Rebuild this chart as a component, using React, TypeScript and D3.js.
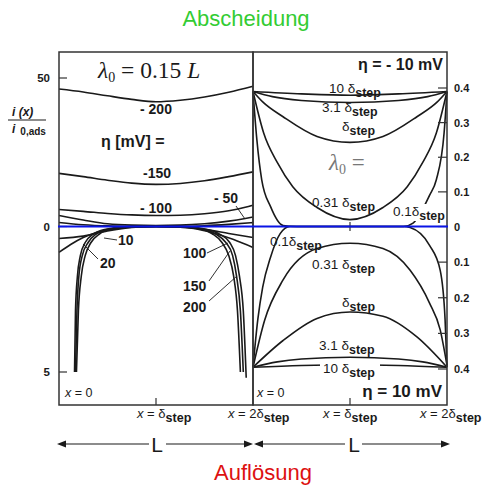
import React from "react";
import * as d3 from "d3";

type P = [number, number];

// ---------- Left panel: deposition curves (upper scale 0..50), x in units of δstep ----------
const depoEta = ["- 200", "-150", "- 100", "- 50"];
const depoM200: P[] = [[0, 46.3], [0.25, 45.3], [0.5, 44.0], [0.75, 42.8], [1, 42.0], [1.25, 42.5], [1.5, 43.6], [1.75, 45.2], [2, 47.2]];
const depoM150: P[] = [[0, 17.9], [0.25, 16.8], [0.5, 15.6], [0.75, 14.6], [1, 14.2], [1.25, 14.5], [1.5, 15.4], [1.75, 16.8], [2, 18.4]];
const depoM100: P[] = [[0, 5.7], [0.25, 5.1], [0.5, 4.4], [0.75, 3.9], [1, 3.7], [1.25, 3.8], [1.5, 4.3], [1.75, 5.3], [1.92, 6.5], [2, 7.2]];
const depoM50: P[] = [[0, 3.7], [0.25, 2.2], [0.5, 0.9], [0.75, 0.45], [1, 0.35], [1.25, 0.45], [1.5, 0.9], [1.75, 1.8], [1.92, 2.7], [2, 3.2]];
const depoM20: P[] = [[0, 1.35], [0.25, 0.6], [0.5, 0.2], [0.75, 0.05], [1, 0.02], [1.25, 0.05], [1.5, 0.25], [1.75, 0.7], [2, 1.3]];

// ---------- Left panel: dissolution curves (lower scale 0..5) ----------
const dissEta = ["10", "20", "100", "150", "200"];
const diss10: P[] = [[0, 0.41], [0.25, 0.33], [0.5, 0.15], [0.75, 0.03], [1, 0], [1.25, 0.02], [1.5, 0.1], [1.75, 0.24], [2, 0.38]];
const diss20: P[] = [[0, 0.89], [0.12, 0.62], [0.25, 0.38], [0.45, 0.15], [0.7, 0.03], [1, 0], [1.3, 0.03], [1.55, 0.18], [1.8, 0.45], [2, 0.72]];
const diss100: P[] = [[0.18, 5.0], [0.2, 2.9], [0.23, 1.7], [0.27, 1.0], [0.33, 0.55], [0.42, 0.25], [0.55, 0.08], [0.75, 0.01], [1, 0], [1.25, 0.01], [1.45, 0.08], [1.58, 0.25], [1.68, 0.55], [1.75, 1.0], [1.8, 1.7], [1.84, 2.9], [1.87, 5.0]];
const diss150: P[] = [[0.17, 5.0], [0.185, 2.9], [0.205, 1.7], [0.24, 1.0], [0.3, 0.55], [0.38, 0.27], [0.5, 0.1], [0.7, 0.015], [1, 0], [1.3, 0.015], [1.5, 0.1], [1.62, 0.27], [1.72, 0.55], [1.79, 1.0], [1.83, 1.7], [1.87, 2.9], [1.9, 5.0]];
const diss200: P[] = [[0.16, 5.0], [0.17, 2.9], [0.19, 1.7], [0.22, 1.0], [0.27, 0.55], [0.35, 0.27], [0.47, 0.1], [0.68, 0.015], [1, 0], [1.32, 0.015], [1.53, 0.1], [1.66, 0.27], [1.76, 0.55], [1.82, 1.0], [1.86, 1.7], [1.9, 2.9], [1.93, 5.2]];

// ---------- Right panel, η = -10 mV (upper, 0..0.4) ----------
const lambdaLabels = ["10 δ", "3.1 δ", "δ", "0.31 δ", "0.1δ"];
const up10: P[] = [[0, 0.39], [0.5, 0.383], [1, 0.379], [1.5, 0.383], [2, 0.39]];
const up31: P[] = [[0, 0.39], [0.2, 0.375], [0.5, 0.364], [1, 0.358], [1.5, 0.364], [1.8, 0.375], [2, 0.39]];
const up1: P[] = [[0, 0.39], [0.1, 0.36], [0.31, 0.317], [0.66, 0.26], [1, 0.243], [1.34, 0.26], [1.69, 0.317], [1.9, 0.36], [2, 0.39]];
const up031: P[] = [[0, 0.39], [0.11, 0.27], [0.25, 0.185], [0.41, 0.115], [0.66, 0.055], [1, 0.02], [1.34, 0.055], [1.59, 0.115], [1.75, 0.185], [1.89, 0.27], [2, 0.39]];
const up01: P[] = [[0, 0.39], [0.04, 0.25], [0.09, 0.135], [0.18, 0.058], [0.31, 0.003], [0.45, 0], [1.55, 0], [1.65, 0.01], [1.82, 0.09], [1.89, 0.135], [1.97, 0.27], [2, 0.39]];

// ---------- Right panel, η = 10 mV (lower, 0..0.4) ----------
const lo10: P[] = [[0, 0.395], [0.5, 0.39], [1, 0.388], [1.5, 0.39], [2, 0.395]];
const lo31: P[] = [[0, 0.395], [0.25, 0.38], [0.5, 0.372], [1, 0.367], [1.5, 0.372], [1.75, 0.38], [2, 0.395]];
const lo1: P[] = [[0, 0.395], [0.31, 0.32], [0.66, 0.258], [1, 0.24], [1.34, 0.252], [1.69, 0.31], [2, 0.395]];
const lo031: P[] = [[0, 0.395], [0.12, 0.263], [0.31, 0.15], [0.66, 0.062], [1, 0.047], [1.34, 0.062], [1.62, 0.123], [1.82, 0.215], [1.93, 0.29], [2, 0.39]];
const lo01: P[] = [[0, 0.395], [0.05, 0.26], [0.1, 0.17], [0.18, 0.087], [0.28, 0.02], [0.38, 0], [1.55, 0], [1.62, 0.003], [1.82, 0.053], [1.93, 0.123], [1.98, 0.26], [2, 0.395]];

// ---------- tick labels ----------
const leftTicksUp = [50, 0];
const leftTicksLo = [5];
const rightTicks = [0.4, 0.3, 0.2, 0.1, 0];

const SANS = "'Liberation Sans', Arial, Helvetica, sans-serif";
const SERIF = "'Liberation Serif', 'Times New Roman', serif";
const INK = "#1a1a1a";

function Sub({ pre, size = 13.5, x, y }: any) {
  return (
    <text x={x} y={y} fontFamily={SANS} fontSize={size} fill={INK}>
      {pre}
      <tspan fontSize={size * 0.92} dy={4} fontWeight="bold">step</tspan>
    </text>
  );
}

export default function App() {
  const xL = d3.scaleLinear().domain([0, 2]).range([59, 253]);
  const xR = d3.scaleLinear().domain([0, 2]).range([253, 447]);
  const yUp = d3.scaleLinear().domain([0, 50]).range([226.5, 78]);
  const yLo = d3.scaleLinear().domain([0, 5]).range([226.5, 372]);
  const yRU = d3.scaleLinear().domain([0, 0.4]).range([226.5, 88]);
  const yRL = d3.scaleLinear().domain([0, 0.4]).range([226.5, 369]);

  const mk = (x: any, y: any) =>
    d3.line<P>().x((d) => x(d[0])).y((d) => y(d[1])).curve(d3.curveMonotoneX);
  const lUp = mk(xL, yUp);
  const lLo = mk(xL, yLo);
  const lRU = mk(xR, yRU);
  const lRL = mk(xR, yRL);

  const depo = [depoM200, depoM150, depoM100, depoM50, depoM20];
  const diss = [diss10, diss20, diss100, diss150, diss200];
  const ru = [up10, up31, up1, up031, up01];
  const rl = [lo10, lo31, lo1, lo031, lo01];

  const stroke = { fill: "none", stroke: INK, strokeWidth: 1.6 };

  const arrowHead = (tip: number, y: number, dir: number) =>
    `${tip},${y} ${tip + dir * 9},${y - 3.5} ${tip + dir * 9},${y + 3.5}`;

  return (
    <svg width={483} height={486} style={{ position: "absolute", left: 0, top: 0, background: "#fff" }}>
      <rect width={483} height={486} fill="#fff" />

      {/* titles */}
      <text x={246} y={26} textAnchor="middle" fontFamily={SANS} fontSize={22} fill="#33cc33">Abscheidung</text>
      <text x={263} y={480} textAnchor="middle" fontFamily={SANS} fontSize={22} fill="#dd1111">Auflösung</text>

      {/* curves */}
      {depo.map((d, i) => <path key={"dp" + i} d={lUp(d) || ""} {...stroke} />)}
      {diss.map((d, i) => <path key={"ds" + i} d={lLo(d) || ""} {...stroke} />)}
      {ru.map((d, i) => <path key={"ru" + i} d={lRU(d) || ""} {...stroke} />)}
      {rl.map((d, i) => <path key={"rl" + i} d={lRL(d) || ""} {...stroke} />)}

      {/* panel frames */}
      <rect x={59} y={52} width={194} height={353} fill="none" stroke="#333" strokeWidth={1.5} />
      <rect x={253} y={52} width={194} height={353} fill="none" stroke="#333" strokeWidth={1.5} />

      {/* left ticks */}
      {leftTicksUp.map((t) => (
        <g key={"lu" + t}>
          <line x1={59} x2={67} y1={yUp(t)} y2={yUp(t)} stroke="#333" strokeWidth={1.2} />
          <text x={50} y={yUp(t) + 4} textAnchor="end" fontFamily={SANS} fontSize={11.5} fontWeight="bold" fill={INK}>{t}</text>
        </g>
      ))}
      {leftTicksLo.map((t) => (
        <g key={"ll" + t}>
          <line x1={59} x2={67} y1={yLo(t)} y2={yLo(t)} stroke="#333" strokeWidth={1.2} />
          <text x={50} y={yLo(t) + 4} textAnchor="end" fontFamily={SANS} fontSize={11.5} fontWeight="bold" fill={INK}>{t}</text>
        </g>
      ))}
      {/* right ticks */}
      {rightTicks.map((t) => (
        <g key={"ru" + t}>
          <line x1={438} x2={447} y1={yRU(t)} y2={yRU(t)} stroke="#333" strokeWidth={1.2} />
          <text x={454} y={yRU(t) + 4} fontFamily={SANS} fontSize={11} fontWeight="bold" fill={INK}>{t === 0 ? "0" : t.toFixed(1)}</text>
        </g>
      ))}
      {rightTicks.filter((t) => t > 0).map((t) => (
        <g key={"rl" + t}>
          <line x1={438} x2={447} y1={yRL(t)} y2={yRL(t)} stroke="#333" strokeWidth={1.2} />
          <text x={454} y={yRL(t) + 4} fontFamily={SANS} fontSize={11} fontWeight="bold" fill={INK}>{t.toFixed(1)}</text>
        </g>
      ))}
      {/* bottom ticks */}
      <line x1={xL(1)} x2={xL(1)} y1={405} y2={398} stroke="#333" strokeWidth={1.2} />
      <line x1={xR(1)} x2={xR(1)} y1={405} y2={398} stroke="#333" strokeWidth={1.2} />
      <line x1={xR(1)} x2={xR(1)} y1={222} y2={231} stroke="#333" strokeWidth={1.2} />

      {/* zero line */}
      <line x1={58} x2={448} y1={226.5} y2={226.5} stroke="#0a14e6" strokeWidth={2.2} />

      {/* y label */}
      <text x={12} y={116} fontFamily={SANS} fontSize={12} fontWeight="bold" fontStyle="italic" fill={INK}>i (x)</text>
      <line x1={8} x2={46} y1={120} y2={120} stroke={INK} strokeWidth={1.1} />
      <text x={12} y={133} fontFamily={SANS} fontSize={12} fontWeight="bold" fontStyle="italic" fill={INK}>
        i<tspan fontStyle="normal" fontSize={10} dx={5} dy={2}>0,ads</tspan>
      </text>

      {/* left panel texts */}
      <text x={98} y={78} fontFamily={SERIF} fontSize={23.5} fill={INK}>
        <tspan fontStyle="italic">λ</tspan><tspan fontSize={14} dy={4}>0</tspan><tspan dy={-4}> = 0.15 </tspan><tspan fontStyle="italic">L</tspan>
      </text>
      <text x={156} y={114} textAnchor="middle" fontFamily={SANS} fontSize={14} fontWeight="bold" fill={INK}>{depoEta[0]}</text>
      <text x={101} y={147} fontFamily={SANS} fontSize={16} fontWeight="bold" fill={INK}>η [mV] =</text>
      <text x={157} y={178} textAnchor="middle" fontFamily={SANS} fontSize={14} fontWeight="bold" fill={INK}>{depoEta[1]}</text>
      <text x={156} y={213} textAnchor="middle" fontFamily={SANS} fontSize={14} fontWeight="bold" fill={INK}>{depoEta[2]}</text>
      <text x={226} y={203} textAnchor="middle" fontFamily={SANS} fontSize={14} fontWeight="bold" fill={INK}>{depoEta[3]}</text>
      <line x1={236} y1={206} x2={245} y2={219} stroke={INK} strokeWidth={0.9} />

      <text x={118} y={245} fontFamily={SANS} fontSize={14} fontWeight="bold" fill={INK}>{dissEta[0]}</text>
      <line x1={104} y1={238} x2={117} y2={240} stroke={INK} strokeWidth={0.9} />
      <text x={100} y={268} fontFamily={SANS} fontSize={14} fontWeight="bold" fill={INK}>{dissEta[1]}</text>
      <line x1={83} y1={244} x2={98} y2={259} stroke={INK} strokeWidth={0.9} />
      <text x={183} y={258} fontFamily={SANS} fontSize={14} fontWeight="bold" fill={INK}>{dissEta[2]}</text>
      <line x1={207} y1={253} x2={228} y2={243} stroke={INK} strokeWidth={0.9} />
      <text x={183} y={291} fontFamily={SANS} fontSize={14} fontWeight="bold" fill={INK}>{dissEta[3]}</text>
      <line x1={209} y1={281} x2={230} y2={251} stroke={INK} strokeWidth={0.9} />
      <text x={183} y={312} fontFamily={SANS} fontSize={14} fontWeight="bold" fill={INK}>{dissEta[4]}</text>
      <line x1={209} y1={301} x2={237} y2={276} stroke={INK} strokeWidth={0.9} />

      <text x={65} y={397} fontFamily={SANS} fontSize={12.5} fill={INK}><tspan fontStyle="italic">x</tspan> = 0</text>
      <text x={257} y={397} fontFamily={SANS} fontSize={12.5} fill={INK}><tspan fontStyle="italic">x</tspan> = 0</text>

      {/* right panel texts */}
      <text x={443} y={70} textAnchor="end" fontFamily={SANS} fontSize={16} fontWeight="bold" fill={INK}>η = - 10 mV</text>
      <text x={442} y={397} textAnchor="end" fontFamily={SANS} fontSize={17} fontWeight="bold" fill={INK}>η = 10 mV</text>

      <rect x={326} y={80} width={54} height={13} fill="#fff" />
      <Sub pre={lambdaLabels[0]} x={329} y={93} />
      <Sub pre={lambdaLabels[1]} x={322} y={112} />
      <Sub pre={lambdaLabels[2]} x={342} y={131} />
      <text x={329} y={170} fontFamily={SERIF} fontSize={23} fill="#777">
        <tspan fontStyle="italic">λ</tspan><tspan fontSize={14} dy={4}>0</tspan><tspan dy={-4}> =</tspan>
      </text>
      <Sub pre={lambdaLabels[3]} x={312} y={207} />
      <rect x={393} y={204} width={52} height={17} fill="#fff" />
      <Sub pre={lambdaLabels[4]} x={393} y={216} />

      <Sub pre={lambdaLabels[4]} x={270} y={246} />
      <Sub pre={lambdaLabels[3]} x={312} y={269} />
      <Sub pre={lambdaLabels[2]} x={342} y={307} />
      <Sub pre={lambdaLabels[1]} x={319} y={350} />
      <rect x={320} y={360} width={60} height={15} fill="#fff" />
      <Sub pre={lambdaLabels[0]} x={323} y={373} />

      {/* x labels */}
      <text x={137} y={418} fontFamily={SANS} fontSize={13} fill={INK}>
        <tspan fontStyle="italic">x</tspan> = δ<tspan fontSize={12.5} fontWeight="bold" dy={4}>step</tspan>
      </text>
      <text x={228} y={418} fontFamily={SANS} fontSize={13} fill={INK}>
        <tspan fontStyle="italic">x</tspan> = 2δ<tspan fontSize={12.5} fontWeight="bold" dy={4}>step</tspan>
      </text>
      <text x={323} y={418} fontFamily={SANS} fontSize={13} fill={INK}>
        <tspan fontStyle="italic">x</tspan> = δ<tspan fontSize={12.5} fontWeight="bold" dy={4}>step</tspan>
      </text>
      <text x={420} y={418} fontFamily={SANS} fontSize={13} fill={INK}>
        <tspan fontStyle="italic">x</tspan> = 2δ<tspan fontSize={12.5} fontWeight="bold" dy={4}>step</tspan>
      </text>

      {/* L arrows */}
      <line x1={60} x2={149} y1={444} y2={444} stroke={INK} strokeWidth={1.2} />
      <line x1={166} x2={250} y1={444} y2={444} stroke={INK} strokeWidth={1.2} />
      <polygon points={arrowHead(57, 444, 1)} fill={INK} />
      <polygon points={arrowHead(253, 444, -1)} fill={INK} />
      <text x={157} y={452} textAnchor="middle" fontFamily={SANS} fontSize={21} fill={INK}>L</text>
      <line x1={256} x2={345} y1={444} y2={444} stroke={INK} strokeWidth={1.2} />
      <line x1={362} x2={447} y1={444} y2={444} stroke={INK} strokeWidth={1.2} />
      <polygon points={arrowHead(254, 444, 1)} fill={INK} />
      <polygon points={arrowHead(450, 444, -1)} fill={INK} />
      <text x={354} y={452} textAnchor="middle" fontFamily={SANS} fontSize={21} fill={INK}>L</text>
    </svg>
  );
}
